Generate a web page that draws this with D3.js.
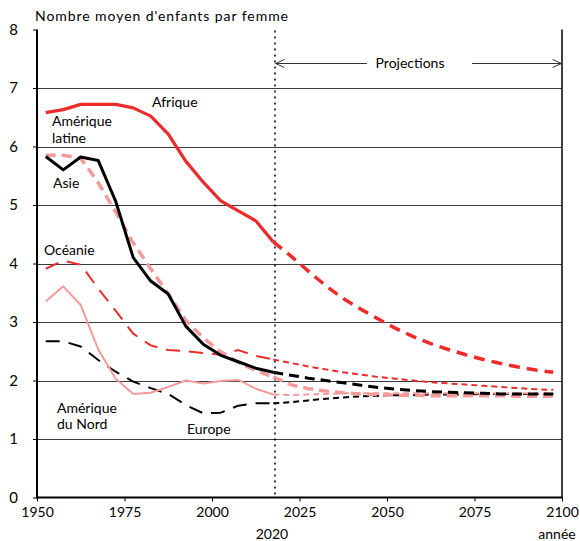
<!DOCTYPE html>
<html>
<head>
<meta charset="utf-8">
<script src="https://cdn.jsdelivr.net/npm/d3@7"></script>
<style>
  html, body { margin: 0; padding: 0; background: #fff; }
  svg { display: block; font-family: Lato, "Open Sans", sans-serif; }
</style>
</head>
<body>
<svg id="chart" width="580" height="541"></svg>
<script>
// ---------- DATA ----------
const yearsObs = [1952.5, 1957.5, 1962.5, 1967.5, 1972.5, 1977.5, 1982.5, 1987.5, 1992.5, 1997.5, 2002.5, 2007.5, 2012.5, 2017.5];
const yearsProj = [2017.5, 2022.5, 2027.5, 2032.5, 2037.5, 2042.5, 2047.5, 2052.5, 2057.5, 2062.5, 2067.5, 2072.5, 2077.5, 2082.5, 2087.5, 2092.5, 2097.5];

const afriqueObs  = [6.58, 6.63, 6.72, 6.72, 6.72, 6.66, 6.52, 6.21, 5.75, 5.39, 5.07, 4.90, 4.73, 4.37];
const afriqueProj = [4.37, 4.13, 3.87, 3.62, 3.40, 3.22, 3.05, 2.89, 2.75, 2.63, 2.53, 2.44, 2.36, 2.29, 2.23, 2.18, 2.14];

const asieObs  = [5.83, 5.60, 5.82, 5.76, 5.06, 4.10, 3.70, 3.48, 2.93, 2.62, 2.43, 2.32, 2.21, 2.14];
const asieProj = [2.14, 2.09, 2.04, 2.00, 1.96, 1.92, 1.88, 1.85, 1.83, 1.81, 1.80, 1.79, 1.78, 1.77, 1.77, 1.77, 1.77];

const ameriqueLatineObs  = [5.85, 5.85, 5.80, 5.38, 4.88, 4.35, 3.91, 3.48, 3.03, 2.73, 2.49, 2.31, 2.17, 2.06];
const ameriqueLatineProj = [2.06, 1.93, 1.86, 1.82, 1.79, 1.77, 1.76, 1.75, 1.75, 1.74, 1.74, 1.74, 1.74, 1.74, 1.73, 1.73, 1.73];

const oceanieObs  = [3.91, 4.05, 3.98, 3.57, 3.19, 2.80, 2.60, 2.52, 2.50, 2.47, 2.44, 2.52, 2.42, 2.36];
const oceanieProj = [2.36, 2.30, 2.24, 2.19, 2.14, 2.10, 2.06, 2.03, 2.00, 1.97, 1.95, 1.93, 1.91, 1.89, 1.87, 1.85, 1.84];

const ameriqueNordObs  = [3.35, 3.61, 3.29, 2.53, 2.03, 1.77, 1.79, 1.89, 2.00, 1.95, 1.99, 2.01, 1.86, 1.76];
const ameriqueNordProj = [1.76, 1.75, 1.76, 1.77, 1.78, 1.78, 1.78, 1.78, 1.78, 1.78, 1.78, 1.78, 1.78, 1.78, 1.78, 1.78, 1.78];

const europeObs  = [2.67, 2.67, 2.58, 2.35, 2.15, 1.98, 1.87, 1.77, 1.58, 1.44, 1.45, 1.57, 1.61, 1.61];
const europeProj = [1.61, 1.63, 1.66, 1.69, 1.71, 1.73, 1.74, 1.75, 1.75, 1.76, 1.76, 1.76, 1.77, 1.77, 1.77, 1.77, 1.77];

const yTicks = [0, 1, 2, 3, 4, 5, 6, 7, 8];
const xTicks = [1950, 1975, 2000, 2025, 2050, 2075, 2100];
const projectionYear = 2018;
const projectionYearLabel = "2020";
const yTitle = "Nombre moyen d'enfants par femme";
const xTitle = "année";
const projectionsLabel = "Projections";

// ---------- LAYOUT ----------
const svg = d3.select("#chart");
const mLeft = 37, mRight = 562, mTop = 29.5, mBottom = 497.5;
const x = d3.scaleLinear().domain([1950, 2100]).range([mLeft, mRight]);
const y = d3.scaleLinear().domain([0, 8]).range([mBottom, mTop]);

const RED = "#ec2b2b", PINK = "#f49a9a", BLACK = "#000";
const FONT = 14;

// gridlines
svg.append("g").selectAll("line")
  .data(yTicks.filter(d => d > 0 && d < 8))
  .join("line")
  .attr("x1", mLeft).attr("x2", mRight)
  .attr("y1", d => Math.round(y(d)) + 0.5).attr("y2", d => Math.round(y(d)) + 0.5)
  .attr("stroke", "#3a3a3a").attr("stroke-width", 1);

// projection dotted line
svg.append("line")
  .attr("x1", x(projectionYear)).attr("x2", x(projectionYear))
  .attr("y1", mTop + 1).attr("y2", mBottom)
  .attr("stroke", "#000").attr("stroke-width", 1.5)
  .attr("stroke-dasharray", "2,4");

// series
const line = d3.line().x(d => x(d[0])).y(d => y(d[1]));
const series = [
  { yrs: yearsObs,  vals: europeObs,          color: BLACK, w: 2,   dash: "14,9" },
  { yrs: yearsProj, vals: europeProj,         color: BLACK, w: 2,   dash: "6,4" },
  { yrs: yearsObs,  vals: ameriqueNordObs,    color: PINK,  w: 2,   dash: null },
  { yrs: yearsProj, vals: ameriqueNordProj,   color: PINK,  w: 2,   dash: "6,4" },
  { yrs: yearsObs,  vals: oceanieObs,         color: RED,   w: 2,   dash: "14,9" },
  { yrs: yearsProj, vals: oceanieProj,        color: RED,   w: 2,   dash: "6,4" },
  { yrs: yearsObs,  vals: ameriqueLatineObs,  color: PINK,  w: 3.5, dash: "10,6" },
  { yrs: yearsProj, vals: ameriqueLatineProj, color: PINK,  w: 3.5, dash: "10,6" },
  { yrs: yearsObs,  vals: asieObs,            color: BLACK, w: 3,   dash: null },
  { yrs: yearsProj, vals: asieProj,           color: BLACK, w: 3,   dash: "10,6" },
  { yrs: yearsObs,  vals: afriqueObs,         color: RED,   w: 3.2, dash: null },
  { yrs: yearsProj, vals: afriqueProj,        color: RED,   w: 3.5, dash: "11,7" }
];
svg.append("g").selectAll("path")
  .data(series)
  .join("path")
  .attr("d", s => line(s.yrs.map((yr, i) => [yr, s.vals[i]])))
  .attr("fill", "none")
  .attr("stroke", s => s.color)
  .attr("stroke-width", s => s.w)
  .attr("stroke-dasharray", s => s.dash)
  .attr("stroke-linejoin", "round");

// axes
const yAxis = d3.axisLeft(y).tickValues(yTicks).tickSize(4).tickPadding(15).tickFormat(d3.format("d"));
const gy = svg.append("g").attr("transform", `translate(${mLeft},0)`).call(yAxis);
gy.select(".domain").remove();
gy.selectAll(".tick line").attr("stroke", "#000");
gy.selectAll("text").attr("font-size", 15).attr("fill", "#000").attr("font-family", "Lato, 'Open Sans', sans-serif");

const xAxis = d3.axisBottom(x).tickValues(xTicks).tickSize(4).tickPadding(6).tickFormat(d3.format("d"));
const gx = svg.append("g").attr("transform", `translate(0,${mBottom})`).call(xAxis);
gx.select(".domain").remove();
gx.selectAll(".tick line").attr("stroke", "#000");
gx.selectAll("text").attr("font-size", FONT).attr("fill", "#000").attr("font-family", "Lato, 'Open Sans', sans-serif");

// frame lines
svg.append("line").attr("x1", mLeft).attr("x2", mLeft).attr("y1", mTop).attr("y2", mBottom + 1)
  .attr("stroke", "#000").attr("stroke-width", 2);
svg.append("line").attr("x1", mLeft).attr("x2", mRight + 0.75).attr("y1", mBottom).attr("y2", mBottom)
  .attr("stroke", "#000").attr("stroke-width", 2);
svg.append("line").attr("x1", mRight).attr("x2", mRight).attr("y1", mTop).attr("y2", mBottom)
  .attr("stroke", "#000").attr("stroke-width", 1.5);

// texts
const txt = (s, tx, ty, anchor = "start") => svg.append("text")
  .attr("x", tx).attr("y", ty).attr("text-anchor", anchor)
  .attr("dominant-baseline", "central")
  .attr("font-size", FONT).attr("fill", "#000").text(s);

txt(yTitle, 35, 15).attr("textLength", 253).attr("lengthAdjust", "spacing");
txt(projectionYearLabel, x(projectionYear) - 3, 533, "middle");
txt(xTitle, 557, 533, "middle");

txt("Afrique", 152, 101);
txt("Amérique", 52, 120);
txt("latine", 52, 137);
txt("Asie", 53, 182);
txt("Océanie", 44, 249);
txt("Amérique", 57, 407);
txt("du Nord", 57, 423);
txt("Europe", 187, 428);

// Projections arrows
const ay = 63.5;
const arrowColor = "#333";
const xp0 = x(projectionYear) + 0.5, xp1 = mRight - 0.5;
svg.append("line").attr("x1", xp0).attr("x2", 367).attr("y1", ay).attr("y2", ay)
  .attr("stroke", arrowColor).attr("stroke-width", 1);
svg.append("line").attr("x1", 472).attr("x2", xp1).attr("y1", ay).attr("y2", ay)
  .attr("stroke", arrowColor).attr("stroke-width", 1);
svg.append("path").attr("d", `M${xp0 + 9},${ay - 4}L${xp0},${ay}L${xp0 + 9},${ay + 4}`)
  .attr("fill", "none").attr("stroke", arrowColor).attr("stroke-width", 1);
svg.append("path").attr("d", `M${xp1 - 9},${ay - 4}L${xp1},${ay}L${xp1 - 9},${ay + 4}`)
  .attr("fill", "none").attr("stroke", arrowColor).attr("stroke-width", 1);
txt(projectionsLabel, 410, ay - 1, "middle");
</script>
</body>
</html>
